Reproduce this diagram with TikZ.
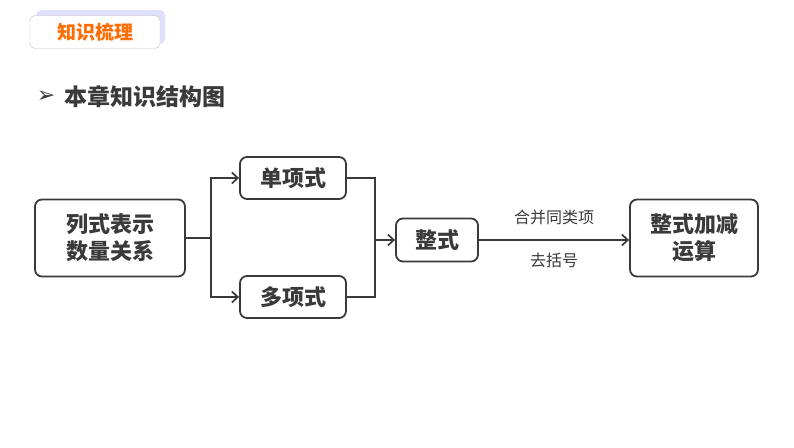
\documentclass[tikz,border=0pt]{standalone}
\usepackage{fontspec}
\newfontfamily\cjk{Noto Sans CJK SC}
\newfontfamily\sym{DejaVu Sans}
\usetikzlibrary{arrows.meta}
\definecolor{dk}{HTML}{3A3A3A}
\tikzset{x=1pt,y=-1pt,
box/.style={draw=dk,line width=1.8pt,rounded corners=7pt,inner sep=0pt,font=\cjk\bfseries\fontsize{22}{27}\selectfont,text=dk,align=center},
ln/.style={draw=dk,line width=1.7pt},
ar/.style={ln,-{Straight Barb[length=6pt,width=11pt]}},
lab/.style={font=\cjk\fontsize{16}{18}\selectfont,text=dk}}
\begin{document}
\begin{tikzpicture}
\useasboundingbox (0,0) rectangle (794,447);
\fill[blue!12,rounded corners=5pt] (36,10) rectangle (165,44);
\node[draw=gray!50,fill=white,rounded corners=5pt,minimum width=130pt,minimum height=33pt,inner sep=0pt,font=\cjk\bfseries\fontsize{19}{21}\selectfont,text=orange!85!red] (tag) at (95,32) {知识梳理};
\node[font=\sym\fontsize{22}{24}\selectfont,text=dk] (bul) at (46,97) {➢};
\node[anchor=west,font=\cjk\bfseries\fontsize{23}{25}\selectfont,text=dk] (head) at (61,97) {本章知识结构图};
\node[box,minimum width=150pt,minimum height=77pt] (a) at (110,238) {列式表示\\数量关系};
\node[box,minimum width=106pt,minimum height=42pt] (b) at (293,178) {单项式};
\node[box,minimum width=106pt,minimum height=42pt] (c) at (293,297) {多项式};
\node[box,minimum width=82pt,minimum height=43pt] (d) at (437,240) {整式};
\node[box,minimum width=128pt,minimum height=77pt] (e) at (694,238) {整式加减\\运算};
\coordinate (s) at (211,238);
\coordinate (m) at (375,240);
\draw[ln] (a.east) -- (s);
\draw[ar] (s) |- (b.west);
\draw[ar] (s) |- (c.west);
\draw[ln] (b.east) -| (m);
\draw[ln] (c.east) -| (m);
\draw[ar] (m) -- (d.west);
\draw[ar] (d.east) -- (e.west|-d.east);
\node[lab] (l1) at (554,217) {合并同类项};
\node[lab] (l2) at (554,260) {去括号};
\end{tikzpicture}
\end{document}
